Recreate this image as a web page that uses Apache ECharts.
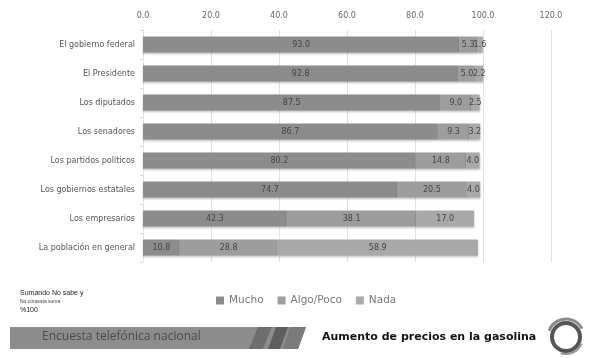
<!DOCTYPE html>
<html>
<head>
<meta charset="utf-8">
<script src="https://cdn.jsdelivr.net/npm/echarts@6/dist/echarts.min.js"></script>
<style>
  html, body { margin: 0; padding: 0; background: #fff; }
  #chart { width: 594px; height: 358px; }
</style>
</head>
<body>
<div id="chart"></div>
<script>
var categorias = ['El gobierno federal', 'El Presidente', 'Los diputados', 'Los senadores',
  'Los partidos políticos', 'Los gobiernos estatales', 'Los empresarios', 'La población en general'];
var mucho = [93.0, 92.8, 87.5, 86.7, 80.2, 74.7, 42.3, 10.8];
var algoPoco = [5.3, 5.0, 9.0, 9.3, 14.8, 20.5, 38.1, 28.8];
var nada = [1.6, 2.2, 2.5, 3.2, 4.0, 4.0, 17.0, 58.9];
var ejeMin = 0, ejeMax = 120, ejeIntervalo = 20;

var chart = echarts.init(document.getElementById('chart'));

function serie(nombre, datos, color) {
  return {
    name: nombre,
    type: 'bar',
    stack: 'total',
    barWidth: 16,
    data: datos,
    itemStyle: {
      color: color,
      shadowColor: 'rgba(0,0,0,0.25)',
      shadowBlur: 2,
      shadowOffsetY: 1
    },
    label: {
      show: true,
      position: 'inside',
      fontSize: 8,
      fontFamily: 'DejaVu Sans',
      color: '#444',
      formatter: function (p) { return p.value.toFixed(1); }
    }
  };
}

var option = {
  animation: false,
  textStyle: { fontFamily: 'DejaVu Sans' },
  grid: { left: 143, right: 43, top: 30, bottom: 96 },
  legend: {
    data: ['Mucho', 'Algo/Poco', 'Nada'],
    left: 211,
    top: 290,
    itemWidth: 8,
    itemHeight: 8,
    itemGap: 14,
    icon: 'rect',
    textStyle: { fontSize: 10.5, color: '#777', fontFamily: 'DejaVu Sans' }
  },
  xAxis: {
    type: 'value',
    position: 'top',
    min: ejeMin,
    max: ejeMax,
    interval: ejeIntervalo,
    axisLine: { show: false },
    axisTick: { show: false },
    splitLine: { lineStyle: { color: '#e2e2e2' } },
    axisLabel: {
      fontSize: 8,
      color: '#666',
      margin: 10,
      formatter: function (v) { return v.toFixed(1); }
    }
  },
  yAxis: {
    type: 'category',
    inverse: true,
    data: categorias,
    axisLine: { lineStyle: { color: '#e2e2e2' } },
    axisTick: { show: true, length: 3, lineStyle: { color: '#d8d8d8' } },
    axisLabel: { fontSize: 8, color: '#555', margin: 8 }
  },
  series: [
    serie('Mucho', mucho, '#8c8c8c'),
    serie('Algo/Poco', algoPoco, '#9d9d9d'),
    serie('Nada', nada, '#a9a9a9')
  ],
  graphic: [
    { type: 'text', left: 20, top: 290, style: { text: 'Sumando No sabe y', fontSize: 7, fill: '#222' } },
    { type: 'text', left: 20, top: 299, style: { text: 'No contesta suma', fontSize: 5, fill: '#444' } },
    { type: 'text', left: 20, top: 307, style: { text: '%100', fontSize: 7, fill: '#222' } },
    { type: 'polygon', shape: { points: [[10, 327], [306, 327], [298, 349], [10, 349]] },
      style: { fill: '#8d8d8d' } },
    { type: 'polygon', shape: { points: [[258, 327], [272, 327], [263, 349], [249, 349]] },
      style: { fill: '#6e6e6e' } },
    { type: 'polygon', shape: { points: [[276, 327], [288, 327], [280, 349], [268, 349]] },
      style: { fill: '#5e5e5e' } },
    { type: 'polygon', shape: { points: [[290, 327], [306, 327], [298, 349], [283, 349]] },
      style: { fill: '#7a7a7a' } },
    { type: 'text', left: 42, top: 331, style: { text: 'Encuesta telefónica nacional', fontSize: 12, fill: '#4a4a4a', fontFamily: 'Open Sans' } },
    { type: 'text', left: 322, top: 332, style: { text: 'Aumento de precios en la gasolina', fontSize: 11, fontWeight: 'bold', fill: '#111', fontFamily: 'DejaVu Sans' } },
    { type: 'circle', shape: { cx: 566, cy: 337, r: 14 }, style: { fill: 'none', stroke: '#555', lineWidth: 4 } },
    { type: 'arc', shape: { cx: 566, cy: 337, r: 18, startAngle: 3.5, endAngle: 5.8 },
      style: { fill: 'none', stroke: '#888', lineWidth: 3 } },
    { type: 'arc', shape: { cx: 566, cy: 337, r: 17, startAngle: 0.4, endAngle: 1.9 },
      style: { fill: 'none', stroke: '#999', lineWidth: 2 } }
  ]
};
chart.setOption(option);
</script>
</body>
</html>
